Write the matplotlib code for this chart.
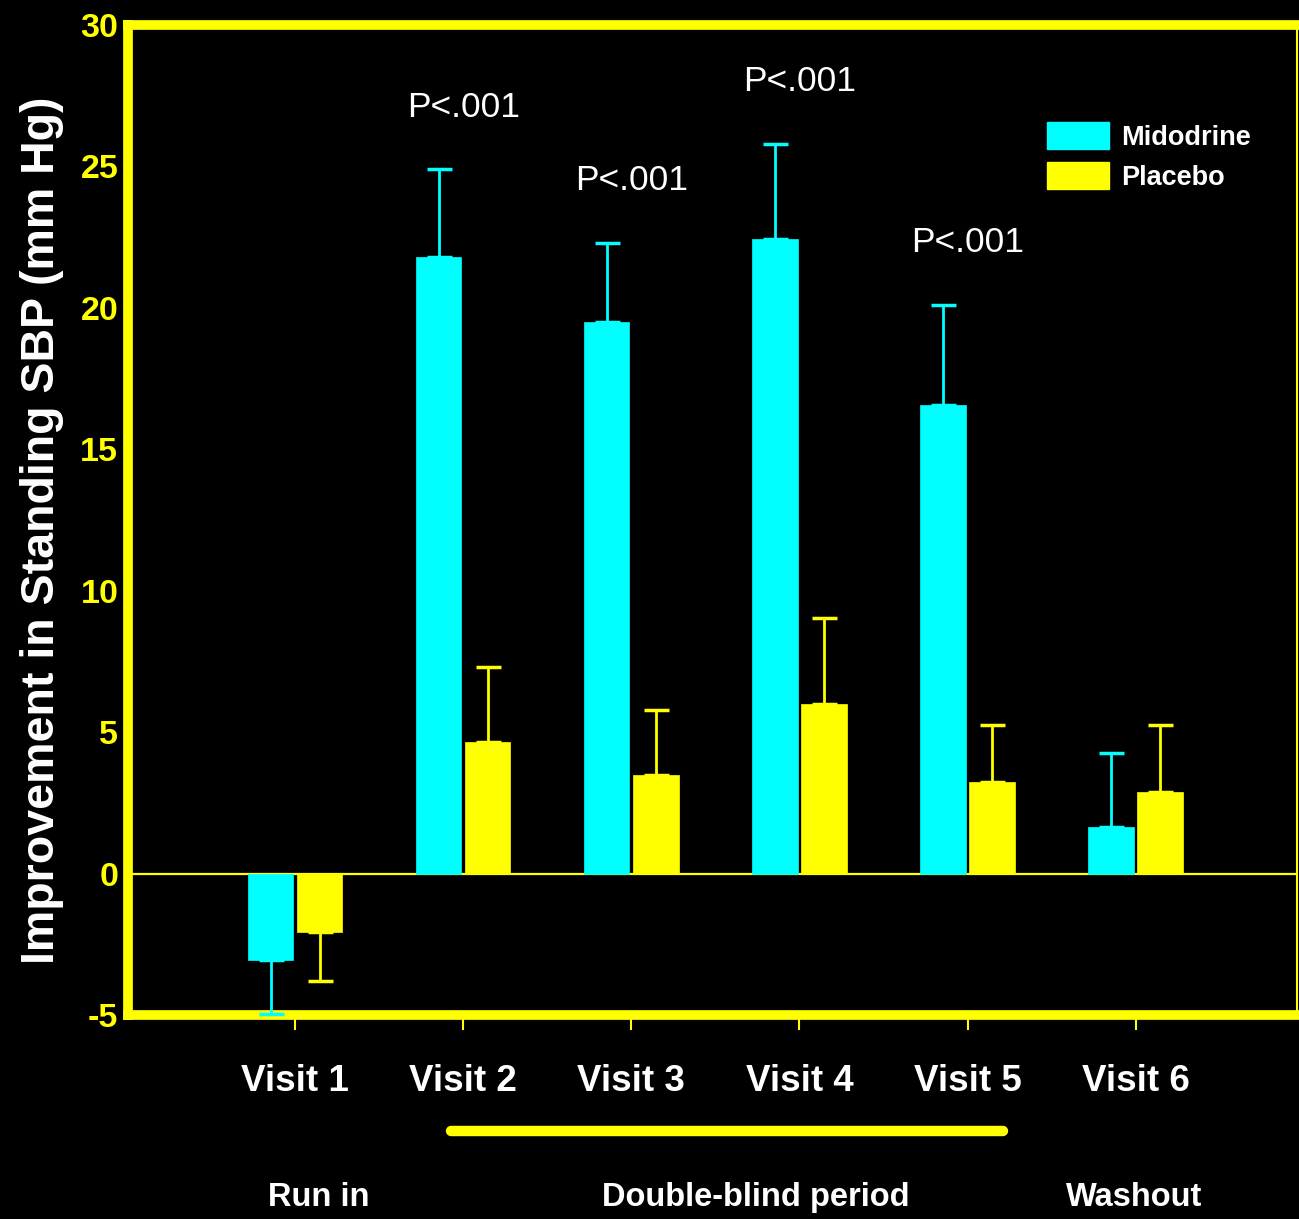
import matplotlib
matplotlib.use("Agg")
import matplotlib.pyplot as plt
import matplotlib.transforms as mtransforms
import numpy as np

# ---- data ----
visits = ["Visit 1", "Visit 2", "Visit 3", "Visit 4", "Visit 5", "Visit 6"]
midodrine = [-3.05, 21.8, 19.5, 22.45, 16.55, 1.65]
midodrine_sem = [1.92, 3.1, 2.8, 3.35, 3.55, 2.62]
placebo = [-2.07, 4.65, 3.5, 6.0, 3.25, 2.9]
placebo_sem = [1.73, 2.65, 2.3, 3.05, 2.0, 2.35]
p_labels = ["", "P<.001", "P<.001", "P<.001", "P<.001", ""]
periods = ["Run in", "Double-blind period", "Washout"]
yticks = [-5, 0, 5, 10, 15, 20, 25, 30]
ylabel = "Improvement in Standing SBP (mm Hg)"

CYAN = "#00FFFF"
YELLOW = "#FFFF00"
ARIAL = ["Liberation Sans", "DejaVu Sans"]

fig = plt.figure(figsize=(12.99, 12.19), dpi=100, facecolor="black")
ax = fig.add_axes([128 / 1299, 1 - 1015 / 1219, (1297 - 128) / 1299, (1015 - 25) / 1219])
ax.set_facecolor("black")

x = np.arange(len(visits))
w = 0.27
off = 0.146


def one_sided(vals, sems):
    lo = [s if v < 0 else 0 for v, s in zip(vals, sems)]
    hi = [0 if v < 0 else s for v, s in zip(vals, sems)]
    return [lo, hi]


ax.bar(x - off, midodrine, width=w, color=CYAN, edgecolor=CYAN, linewidth=0.5, zorder=3)
ax.bar(x + off, placebo, width=w, color=YELLOW, edgecolor=YELLOW, linewidth=0.5, zorder=3)
for xs, vals, sems, col in [(x - off, midodrine, midodrine_sem, CYAN),
                            (x + off, placebo, placebo_sem, YELLOW)]:
    eb = ax.errorbar(xs, vals, yerr=one_sided(vals, sems), fmt="none",
                     ecolor=col, elinewidth=2, capsize=9, capthick=2.5, zorder=2.8)
    for artist in eb.lines[1] + eb.lines[2]:
        artist.set_clip_on(False)
        artist.set_zorder(2.8)

ax.axhline(0, color=YELLOW, lw=1.6, zorder=1)

# P-value annotations
for xi, m, s, lab in zip(x, midodrine, midodrine_sem, p_labels):
    if lab:
        ax.text(xi, m + s + 2.2, lab, color="white", fontsize=25.5,
                family=ARIAL, ha="center", va="center")

ax.set_xlim(-0.994, 5.96)
ax.set_ylim(-5, 30)
ax.set_yticks(yticks)
ax.set_yticklabels([str(t) for t in yticks], color=YELLOW, fontsize=24.5,
                   fontweight="bold", family=ARIAL)
ax.tick_params(axis="y", length=0, pad=7)
ax.set_xticks(x)
ax.set_xticklabels(visits, color="white", fontsize=26.5, fontweight="bold", family=ARIAL)
ax.tick_params(axis="x", direction="out", length=11, width=1.5, color=YELLOW, pad=24)

for side in ["left", "top", "bottom"]:
    ax.spines[side].set_color(YELLOW)
    ax.spines[side].set_linewidth(7)
ax.spines["right"].set_color(YELLOW)
ax.spines["right"].set_linewidth(1.5)

fig.text(42 / 1299, 1 - 530 / 1219, ylabel, rotation=90, color="white", fontsize=33.5,
         fontweight="bold", family=ARIAL, ha="center", va="center")

# period bar and labels
trans = mtransforms.blended_transform_factory(ax.transData, ax.transAxes)
ax.plot([0.93, 4.21], [-0.117, -0.117], transform=trans, color=YELLOW, lw=7.5,
        solid_capstyle="round", clip_on=False)
for px, lab in zip([0.14, 2.74, 4.99], periods):
    ax.text(px, -0.184, lab, transform=trans, color="white", fontsize=23.5,
            fontweight="bold", family=ARIAL, ha="center", va="center")

# legend
leg = fig.legend(handles=[plt.Rectangle((0, 0), 1, 1, fc=CYAN, ec=CYAN),
                          plt.Rectangle((0, 0), 1, 1, fc=YELLOW, ec=YELLOW)],
                 labels=["Midodrine", "Placebo"],
                 loc="upper left", bbox_to_anchor=(1047 / 1299, 1 - 122 / 1219),
                 frameon=False, borderpad=0, borderaxespad=0,
                 handlelength=2.3, handleheight=1.15, handletextpad=0.45,
                 labelspacing=0.42,
                 prop={"family": ARIAL, "weight": "bold", "size": 19.5})
for t in leg.get_texts():
    t.set_color("white")

fig.savefig("out.png", dpi=100, facecolor="black")
